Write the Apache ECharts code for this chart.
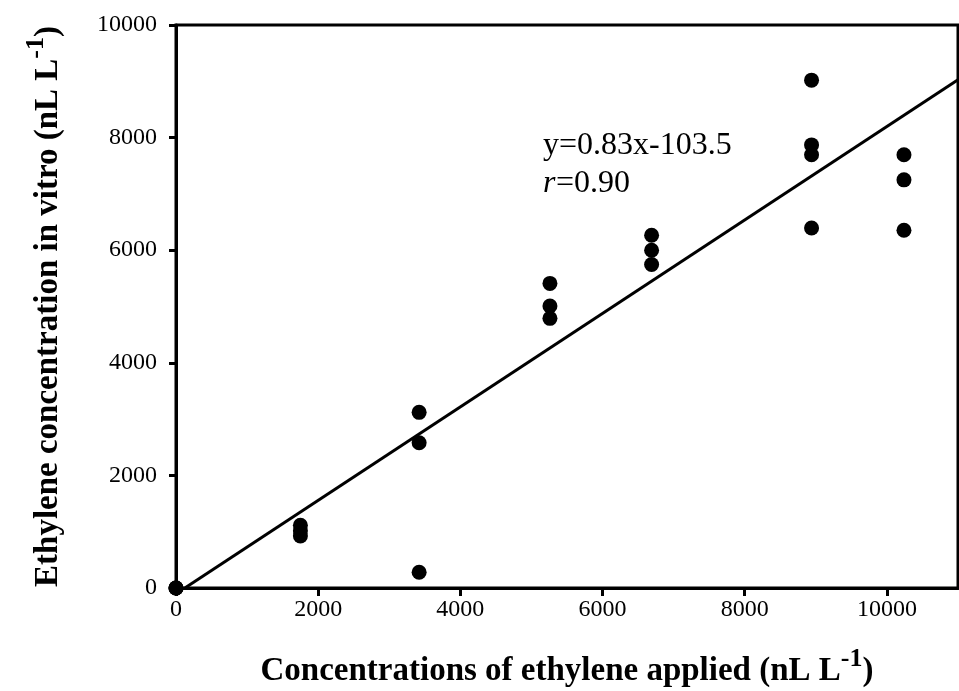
<!DOCTYPE html>
<html>
<head>
<meta charset="utf-8">
<script src="https://cdn.jsdelivr.net/npm/echarts@6/dist/echarts.min.js"></script>
<style>html,body{margin:0;padding:0;background:#fff;}#c{width:959px;height:691px;}</style>
</head>
<body>
<div id="c"></div>
<script>
// Applied ethylene concentration (x) levels
const applied = [0, 1750, 3420, 5260, 6690, 8940, 10240];
// Measured replicate values (y) at each applied level
const rep1 = [0, 1115, 3120, 5410, 6265, 9020, 7695];
const rep2 = [0, 1015, 2580, 5010, 6000, 7870, 7250];
const rep3 = [0, 925, 280, 4790, 5745, 7695, 6355];
const rep4 = [null, null, null, null, null, 6395, null];
// Tick labels
const xTicks = [0, 2000, 4000, 6000, 8000, 10000];
const yTicks = [0, 2000, 4000, 6000, 8000, 10000];
// Regression
const slope = 0.83, intercept = -103.5;
const xMax = 11000;

const pts = [];
[rep1, rep2, rep3, rep4].forEach(r => r.forEach((v, i) => { if (v !== null) pts.push([applied[i], v]); }));
const xStart = -intercept / slope;
const fitLine = [[xStart, slope * xStart + intercept], [xMax, slope * xMax + intercept]];

const serif = "'Liberation Serif','Times New Roman',serif";
const nameRich = {
  b: { fontFamily: serif, fontSize: 33, fontWeight: 'bold', color: '#000', lineHeight: 50 },
  s: { fontFamily: serif, fontSize: 26, fontWeight: 'bold', color: '#000', verticalAlign: 'top', lineHeight: 26 }
};
const plain = v => String(v);

const chart = echarts.init(document.getElementById('c'), null, { renderer: 'canvas' });
chart.setOption({
  animation: false,
  backgroundColor: '#fff',
  grid: { left: 176, right: 1, top: 25, bottom: 103, outerBoundsMode: 'none', containLabel: false, show: true, borderColor: '#000', borderWidth: 3, backgroundColor: 'transparent' },
  xAxis: {
    type: 'value', min: 0, max: xMax, interval: 2000,
    axisLine: { lineStyle: { color: '#000', width: 3 } },
    axisTick: { show: true, length: 8, lineStyle: { color: '#000', width: 3 }, customValues: xTicks },
    axisLabel: { fontFamily: serif, fontSize: 24, color: '#000', margin: 10, customValues: xTicks, formatter: plain },
    splitLine: { show: false },
    name: '{b|Concentrations of ethylene applied (nL L}{s|-1}{b|)}',
    nameLocation: 'middle', nameGap: 58,
    nameTextStyle: { rich: nameRich }
  },
  yAxis: {
    type: 'value', min: 0, max: 10000, interval: 2000,
    axisLine: { lineStyle: { color: '#000', width: 3 } },
    axisTick: { show: true, length: 7, lineStyle: { color: '#000', width: 3 }, customValues: yTicks },
    axisLabel: { fontFamily: serif, fontSize: 24, color: '#000', margin: 19, customValues: yTicks, formatter: plain },
    splitLine: { show: false },
    name: '{b|Ethylene concentration in vitro (nL L}{s|-1}{b|)}',
    nameLocation: 'middle', nameGap: 103,
    nameTextStyle: { rich: nameRich }
  },
  series: [
    { type: 'line', data: fitLine, symbol: 'none', lineStyle: { color: '#000', width: 3 }, z: 3, silent: true },
    { type: 'scatter', data: pts, symbol: 'circle', symbolSize: 15, itemStyle: { color: '#000', opacity: 1 }, clip: false, z: 4 }
  ],
  graphic: [
    { type: 'text', left: 543, top: 130, style: { text: 'y=0.83x-103.5', font: "32px " + serif, fill: '#000' } },
    { type: 'text', left: 543, top: 168, style: { text: 'r', font: "italic 32px " + serif, fill: '#000' } },
    { type: 'text', left: 556, top: 168, style: { text: '=0.90', font: "32px " + serif, fill: '#000' } }
  ]
});
</script>
</body>
</html>
